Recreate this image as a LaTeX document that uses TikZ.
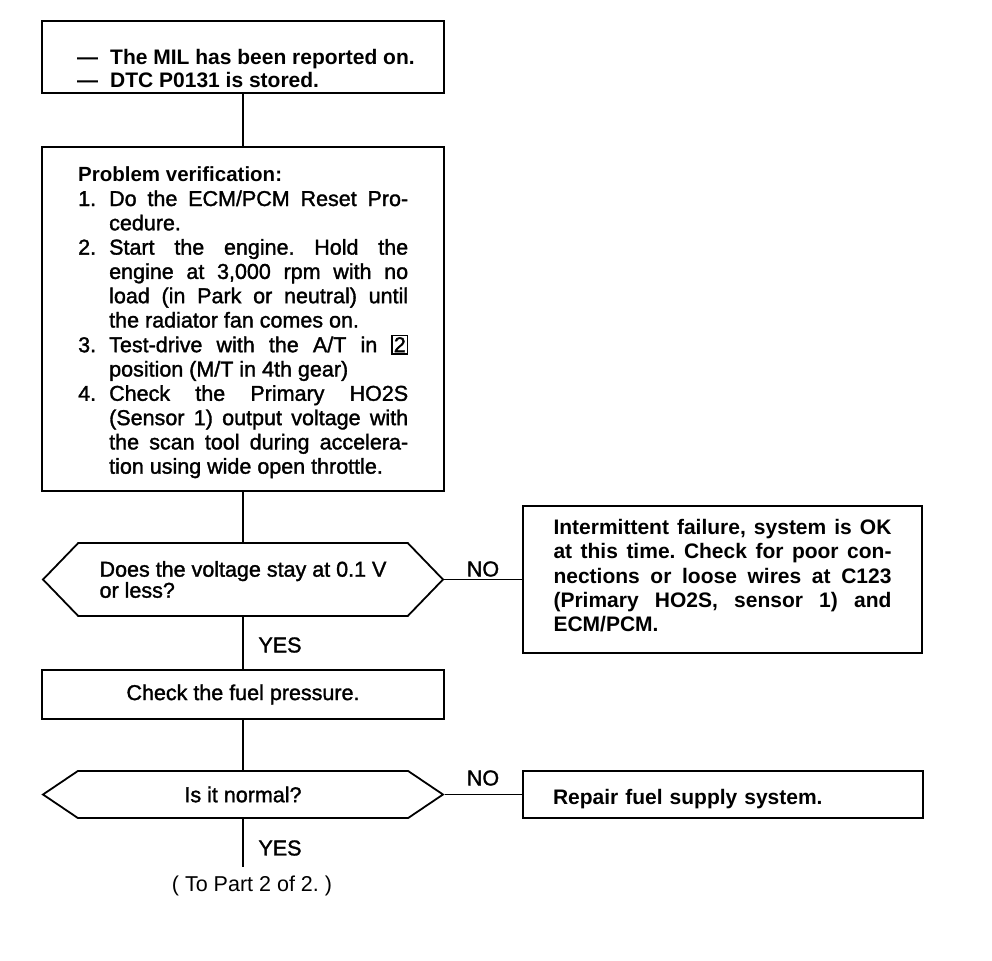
\documentclass[tikz,border=0pt]{standalone}
\usepackage{fontspec}
\setmainfont{Liberation Sans}
\newfontfamily\medium{Liberation Sans}[FakeBold=1.5]
\usetikzlibrary{shapes.symbols}
\frenchspacing

\newcommand\jline[2][299pt]{\makebox[#1][s]{#2}}
\newcommand\num[1]{\makebox[31pt][l]{#1}}
\newcommand\keybox[1]{{\fboxsep=1.2pt\fboxrule=1.2pt\fbox{#1}}}

\tikzset{
  stepbox/.style={draw, line width=1.8pt, inner sep=0pt, minimum width=402pt},
  ask/.style={draw, line width=1.8pt, signal, signal to=east and west, inner sep=0pt, minimum width=400pt},
  body/.style={font=\medium\fontsize{21.5}{24.3}\selectfont},
  heavy/.style={font=\bfseries\fontsize{21}{24.2}\selectfont},
  link/.style={line width=1.8pt},
}

\begin{document}
\begin{tikzpicture}[x=1pt,y=-1pt]
    \useasboundingbox (0,0) rectangle (992,960);

    % left column
    \node[stepbox, minimum height=72pt] (mil) at (243,57) {};
    \node[heavy, font=\bfseries\fontsize{21}{22.5}\selectfont, inner sep=0pt, anchor=base west] (miltext) at (77,65)
        {\begin{tabular}[t]{@{}l@{}}
            \makebox[33pt][l]{---}The MIL has been reported on.\\
            \makebox[33pt][l]{---}DTC P0131 is stored.
        \end{tabular}};

    \node[stepbox, minimum height=344pt] (verif) at (243,319) {};
    \node[body, inner sep=0pt, anchor=base west] (veriftext) at (78,181.7)
        {\begin{tabular}[t]{@{}l@{}}
            {\normalfont\bfseries\fontsize{20.5}{24.3}\selectfont Problem verification:}\\
            \num{1.}\jline{Do the ECM/PCM Reset Pro-}\\
            \num{}cedure.\\
            \num{2.}\jline{Start the engine. Hold the}\\
            \num{}\jline{engine at 3,000 rpm with no}\\
            \num{}\jline{load (in Park or neutral) until}\\
            \num{}the radiator fan comes on.\\
            \num{3.}\jline{Test-drive with the A/T in \keybox{2}}\\
            \num{}position (M/T in 4th gear)\\
            \num{4.}\jline{Check the Primary HO2S}\\
            \num{}\jline{(Sensor 1) output voltage with}\\
            \num{}\jline{the scan tool during accelera-}\\
            \num{}tion using wide open throttle.
        \end{tabular}};

    \node[ask, minimum height=73pt, signal pointer angle=92, align=left,
          font=\medium\fontsize{21.5}{20}\selectfont] (chk1) at (243,579.5)
        {Does the voltage stay at 0.1 V\\or less?};

    \node[stepbox, minimum height=49pt, body] (fuel) at (243,694.5) {Check the fuel pressure.};

    \node[ask, minimum height=47pt, signal pointer angle=68, body] (chk2) at (243,794.5) {Is it normal?};

    \coordinate (out) at (243,867);
    \node[font=\fontsize{21.5}{24}\selectfont] (part2) at (252,886) {( To Part 2 of 2. )};

    % right column
    \node[stepbox, minimum width=399pt, minimum height=147pt, heavy, align=left] (intm) at (722.5,579.5)
        {\jline[338pt]{Intermittent failure, system is OK}\\
         \jline[338pt]{at this time. Check for poor con-}\\
         \jline[338pt]{nections or loose wires at C123}\\
         \jline[338pt]{(Primary HO2S, sensor 1) and}\\
         ECM/PCM.\rule[-8pt]{0pt}{8pt}};

    \node[stepbox, minimum width=400pt, minimum height=47pt, heavy, text width=340pt, align=left] (repair) at (723,794.5)
        {\rule{0pt}{24pt}Repair fuel supply system.};

    % labels
    \node[body] (no1) at (483,569) {NO};
    \node[body] (no2) at (483,778) {NO};
    \node[body] (yes1) at (280,645) {YES};
    \node[body] (yes2) at (280,848) {YES};

    % connectors
    \draw[link] (mil) -- (verif);
    \draw[link] (verif) -- (chk1);
    \draw[link] (chk1) -- (fuel);
    \draw[link] (fuel) -- (chk2);
    \draw[link] (chk2.south) -- (out);
    \draw[link] (chk1.east) -- (intm.west);
    \draw[link] (chk2.east) -- (repair.west);

\end{tikzpicture}
\end{document}
